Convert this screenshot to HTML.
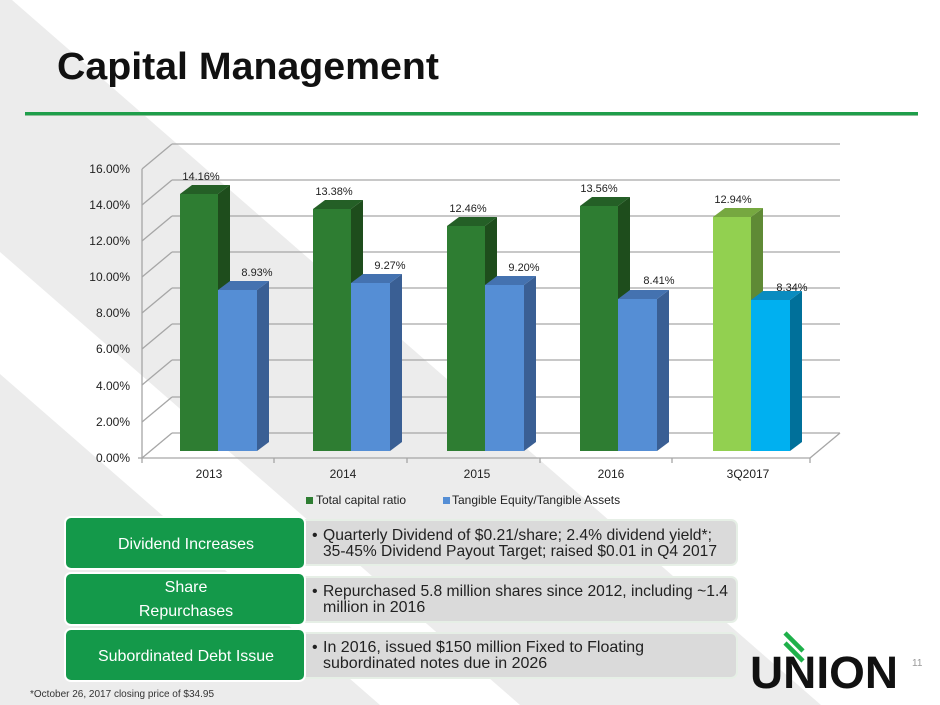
<!DOCTYPE html>
<html><head><meta charset="utf-8"><style>
html,body{margin:0;padding:0;background:#fff;}
svg{display:block;font-family:"Liberation Sans",Arial,sans-serif;}
</style></head><body>
<svg width="940" height="705" viewBox="0 0 940 705" xmlns="http://www.w3.org/2000/svg">
<rect width="940" height="705" fill="#fff"/>
<polygon points="0,0 12,0 821,705 0,705" fill="#ececec"/>
<polygon points="0,252 520,705 380,705 0,374" fill="#fff"/>
<text x="57" y="79" font-size="38" font-weight="bold" fill="#111" textLength="382" lengthAdjust="spacingAndGlyphs">Capital Management</text>
<rect x="25" y="112" width="893" height="3" fill="#1e9e4a"/>
<rect x="25" y="115" width="893" height="1" fill="#8fbf9a"/>
<g stroke="#a6a6a6" stroke-width="1.3" fill="none">
<line x1="172" y1="433" x2="840" y2="433"/><line x1="142" y1="458" x2="172" y2="433"/>
<line x1="172" y1="397" x2="840" y2="397"/><line x1="142" y1="422" x2="172" y2="397"/>
<line x1="172" y1="360" x2="840" y2="360"/><line x1="142" y1="385" x2="172" y2="360"/>
<line x1="172" y1="324" x2="840" y2="324"/><line x1="142" y1="349" x2="172" y2="324"/>
<line x1="172" y1="288" x2="840" y2="288"/><line x1="142" y1="313" x2="172" y2="288"/>
<line x1="172" y1="252" x2="840" y2="252"/><line x1="142" y1="277" x2="172" y2="252"/>
<line x1="172" y1="216" x2="840" y2="216"/><line x1="142" y1="241" x2="172" y2="216"/>
<line x1="172" y1="180" x2="840" y2="180"/><line x1="142" y1="205" x2="172" y2="180"/>
<line x1="172" y1="144" x2="840" y2="144"/><line x1="142" y1="169" x2="172" y2="144"/>
<line x1="142" y1="169" x2="142" y2="458"/>
<line x1="142" y1="458" x2="810" y2="458"/><line x1="810" y1="458" x2="840" y2="433"/>
<line x1="138" y1="458" x2="142" y2="458"/>
<line x1="142" y1="458" x2="142" y2="463"/><line x1="274" y1="458" x2="274" y2="463"/><line x1="407" y1="458" x2="407" y2="463"/><line x1="540" y1="458" x2="540" y2="463"/><line x1="672" y1="458" x2="672" y2="463"/><line x1="810" y1="458" x2="810" y2="463"/>
</g>
<g font-size="12" fill="#222" text-anchor="end">
<text x="130" y="462">0.00%</text><text x="130" y="426">2.00%</text><text x="130" y="390">4.00%</text><text x="130" y="353">6.00%</text><text x="130" y="317">8.00%</text><text x="130" y="281">10.00%</text><text x="130" y="245">12.00%</text><text x="130" y="209">14.00%</text><text x="130" y="173">16.00%</text>
</g>
<g font-size="12" fill="#222" text-anchor="middle">
<text x="209" y="478">2013</text><text x="343" y="478">2014</text><text x="477" y="478">2015</text><text x="611" y="478">2016</text><text x="748" y="478">3Q2017</text>
</g>
<!-- bars -->
<g>
<!-- 2013 -->
<polygon points="218,194 230,185 230,442 218,451" fill="#1e4d1c"/><polygon points="180,194 192,185 230,185 218,194" fill="#245f26"/><rect x="180" y="194" width="38" height="257" fill="#2e7d32"/>
<polygon points="257,290 269,281 269,442 257,451" fill="#3a5f94"/><polygon points="218,290 230,281 269,281 257,290" fill="#4472b0"/><rect x="218" y="290" width="39" height="161" fill="#558ed5"/>
<!-- 2014 -->
<polygon points="351,209 363,200 363,442 351,451" fill="#1e4d1c"/><polygon points="313,209 325,200 363,200 351,209" fill="#245f26"/><rect x="313" y="209" width="38" height="242" fill="#2e7d32"/>
<polygon points="390,283 402,274 402,442 390,451" fill="#3a5f94"/><polygon points="351,283 363,274 402,274 390,283" fill="#4472b0"/><rect x="351" y="283" width="39" height="168" fill="#558ed5"/>
<!-- 2015 -->
<polygon points="485,226 497,217 497,442 485,451" fill="#1e4d1c"/><polygon points="447,226 459,217 497,217 485,226" fill="#245f26"/><rect x="447" y="226" width="38" height="225" fill="#2e7d32"/>
<polygon points="524,285 536,276 536,442 524,451" fill="#3a5f94"/><polygon points="485,285 497,276 536,276 524,285" fill="#4472b0"/><rect x="485" y="285" width="39" height="166" fill="#558ed5"/>
<!-- 2016 -->
<polygon points="618,206 630,197 630,442 618,451" fill="#1e4d1c"/><polygon points="580,206 592,197 630,197 618,206" fill="#245f26"/><rect x="580" y="206" width="38" height="245" fill="#2e7d32"/>
<polygon points="657,299 669,290 669,442 657,451" fill="#3a5f94"/><polygon points="618,299 630,290 669,290 657,299" fill="#4472b0"/><rect x="618" y="299" width="39" height="152" fill="#558ed5"/>
<!-- 3Q2017 -->
<polygon points="751,217 763,208 763,442 751,451" fill="#5f8a35"/><polygon points="713,217 725,208 763,208 751,217" fill="#76a840"/><rect x="713" y="217" width="38" height="234" fill="#92d050"/>
<polygon points="790,300 802,291 802,442 790,451" fill="#00709a"/><polygon points="751,300 763,291 802,291 790,300" fill="#0a8cc0"/><rect x="751" y="300" width="39" height="151" fill="#00b0f0"/>
</g>
<g font-size="11" fill="#222" text-anchor="middle">
<text x="201" y="180">14.16%</text><text x="257" y="276">8.93%</text>
<text x="334" y="195">13.38%</text><text x="390" y="269">9.27%</text>
<text x="468" y="212">12.46%</text><text x="524" y="271">9.20%</text>
<text x="599" y="192">13.56%</text><text x="659" y="284">8.41%</text>
<text x="733" y="203">12.94%</text><text x="792" y="291">8.34%</text>
</g>
<rect x="306" y="497" width="7" height="7" fill="#2e7d32"/>
<text x="316" y="504" font-size="12" fill="#222">Total capital ratio</text>
<rect x="443" y="497" width="7" height="7" fill="#558ed5"/>
<text x="452" y="504" font-size="12" fill="#222">Tangible Equity/Tangible Assets</text>
<!-- boxes -->
<g fill="#dadada" stroke="#e6efe6" stroke-width="2">
<rect x="300" y="520" width="437" height="45" rx="6"/>
<rect x="300" y="577" width="437" height="45" rx="6"/>
<rect x="300" y="633" width="437" height="45" rx="6"/>
</g>
<g fill="#14994a" stroke="#fff" stroke-width="2">
<rect x="65" y="517" width="240" height="52" rx="6"/>
<rect x="65" y="573" width="240" height="52" rx="6"/>
<rect x="65" y="629" width="240" height="52" rx="6"/>
</g>
<g font-size="16" fill="#fff" text-anchor="middle">
<text x="186" y="549">Dividend Increases</text>
<text x="186" y="592">Share</text>
<text x="186" y="616">Repurchases</text>
<text x="186" y="661">Subordinated Debt Issue</text>
</g>
<g font-size="16" fill="#222">
<text x="312" y="540">•</text>
<text x="323" y="540" textLength="389" lengthAdjust="spacingAndGlyphs">Quarterly Dividend of $0.21/share; 2.4% dividend yield*;</text>
<text x="323" y="556" textLength="394" lengthAdjust="spacingAndGlyphs">35-45% Dividend Payout Target; raised $0.01 in Q4 2017</text>
<text x="312" y="596">•</text>
<text x="323" y="596" textLength="405" lengthAdjust="spacingAndGlyphs">Repurchased 5.8 million shares since 2012, including ~1.4</text>
<text x="323" y="612">million in 2016</text>
<text x="312" y="652">•</text>
<text x="323" y="652">In 2016, issued $150 million Fixed to Floating</text>
<text x="323" y="668">subordinated notes due in 2026</text>
</g>
<text x="30" y="697" font-size="10" fill="#333">*October 26, 2017 closing price of $34.95</text>
<!-- logo -->
<text x="750" y="688" font-size="45" font-weight="bold" fill="#111" textLength="148" lengthAdjust="spacingAndGlyphs">UNION</text>
<g stroke="#1eb04a" stroke-width="4.5">
<line x1="785" y1="633" x2="803" y2="651"/>
<line x1="785" y1="643" x2="803" y2="661"/>
</g>
<text x="912" y="666" font-size="10" fill="#999">11</text>
</svg>
</body></html>
